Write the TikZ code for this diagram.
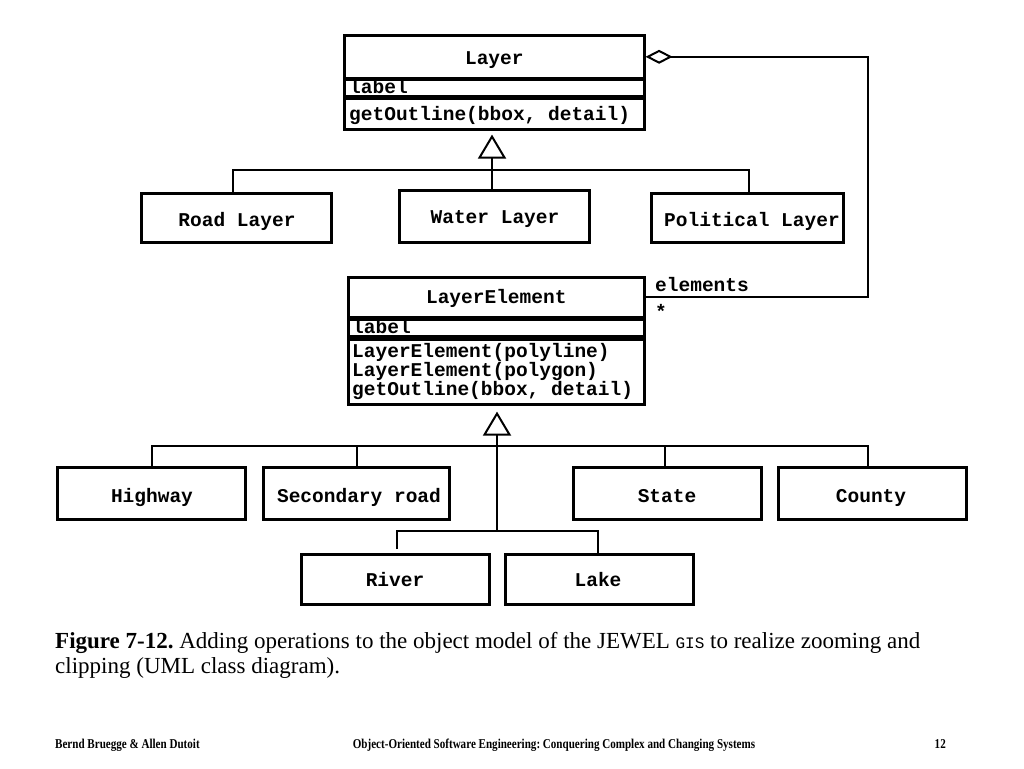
\documentclass[tikz,border=0pt]{standalone}
\usepackage{fontspec}
\setmainfont{Liberation Serif}
\setmonofont{Liberation Mono}
\newfontfamily\footfont[FakeStretch=0.82]{Liberation Serif}
\usetikzlibrary{arrows.meta}
\frenchspacing
\begin{document}
\begin{tikzpicture}[x=1pt,y=-1pt,
  box/.style={draw, line width=2.6pt, inner sep=0pt, anchor=north west},
  boxtext/.style={inner sep=0pt, font=\ttfamily\bfseries\fontsize{19.5}{16.5}\selectfont},
  conn/.style={line width=2pt},
  gen/.style={conn, -{Triangle[open, length=24pt, width=28pt, line width=2pt]}},
  agg/.style={conn, -{Diamond[open, length=27pt, width=14pt, line width=2pt]}},
  captext/.style={anchor=base west, inner sep=0pt, font=\fontsize{23}{27}\selectfont},
  foottext/.style={inner sep=0pt, font=\footfont\bfseries\fontsize{13.5}{13.5}\selectfont},
]
\useasboundingbox (0,0) rectangle (1024,768);
% ---- Layer class
\node[box, minimum width=300pt, minimum height=43pt] (layername) at (343,34) {};
\node[boxtext, anchor=base] (layernamet) at (layername.center |- 0,64) {Layer};
\node[box, minimum width=300pt, minimum height=17pt] (layerattr) at (343,78) {};
\node[boxtext, anchor=base west] (layerattrt) at (349,93) {label};
\node[box, minimum width=300pt, minimum height=31pt] (layerops) at (343,97) {};
\node[boxtext, anchor=base west] (layeropst) at (349,120) {getOutline(bbox, detail)};
% ---- Layer subclasses
\node[box, minimum width=190pt, minimum height=49pt] (road) at (140,192) {};
\node[boxtext, anchor=base] (roadt) at (237,226) {Road Layer};
\node[box, minimum width=190pt, minimum height=52pt] (water) at (398,189) {};
\node[boxtext, anchor=base] (watert) at (495,223) {Water Layer};
\node[box, minimum width=192pt, minimum height=49pt] (political) at (650,192) {};
\node[boxtext, anchor=base] (politicalt) at (752,226) {Political Layer};
\coordinate (j1) at (492,170);
\draw[gen, shorten >=4pt] (j1) -- (j1 |- layerops.south);
\draw[conn] (road.north -| 233,0) -- (233,170) -- (749,170) -- (political.north -| 749,0);
\draw[conn] (j1) -- (water.north -| j1);
% ---- LayerElement class
\node[box, minimum width=296pt, minimum height=40pt] (lename) at (347,276) {};
\node[boxtext, anchor=base] (lenamet) at (lename.center |- 0,303) {LayerElement};
\node[box, minimum width=296pt, minimum height=17pt] (leattr) at (347,318) {};
\node[boxtext, anchor=base west] (leattrt) at (352,333) {label};
\node[box, minimum width=296pt, minimum height=65pt] (leops) at (347,338) {};
\node[boxtext, anchor=north west, align=left] (leopst) at (352,343)
  {LayerElement(polyline)\\LayerElement(polygon)\\getOutline(bbox, detail)};
% ---- aggregation
\draw[agg] (lename.east) -- (lename.east -| 868,0) |- (layername.east);
\node[boxtext, anchor=base west] (elements) at (655,291) {elements};
\node[boxtext, anchor=base west] (mult) at (655,318) {*};
% ---- LayerElement subclasses
\node[box, minimum width=188pt, minimum height=52pt] (highway) at (56,466) {};
\node[boxtext, anchor=base] (highwayt) at (152,502) {Highway};
\node[box, minimum width=186pt, minimum height=52pt] (secondary) at (262,466) {};
\node[boxtext, anchor=base] (secondaryt) at (359,502) {Secondary road};
\node[box, minimum width=188pt, minimum height=52pt] (state) at (572,466) {};
\node[boxtext, anchor=base] (statet) at (667,502) {State};
\node[box, minimum width=188pt, minimum height=52pt] (county) at (777,466) {};
\node[boxtext, anchor=base] (countyt) at (871,502) {County};
\node[box, minimum width=188pt, minimum height=50pt] (river) at (300,553) {};
\node[boxtext, anchor=base] (rivert) at (395,586) {River};
\node[box, minimum width=188pt, minimum height=50pt] (lake) at (504,553) {};
\node[boxtext, anchor=base] (laket) at (598,586) {Lake};
\coordinate (j2) at (497,531);
\draw[gen, shorten >=6pt] (j2) -- (j2 |- leops.south);
\draw[conn] (highway.north -| 152,0) -- (152,446) -- (868,446) -- (county.north -| 868,0);
\draw[conn] (secondary.north -| 357,0) -- (357,446);
\draw[conn] (state.north -| 665,0) -- (665,446);
\draw[conn] (397,549) -- (397,531) -- (598,531) -- (lake.north -| 598,0);
% ---- caption
\node[captext] (caption1) at (55,648)
  {\textbf{Figure 7-12.} Adding operations to the object model of the JEWEL {\ttfamily\fontsize{16}{16}\selectfont GIS} to realize zooming and};
\node[captext] (caption2) at (55,673) {clipping (UML class diagram).};
% ---- footer
\node[foottext, anchor=base west] (foot1) at (55,748) {Bernd Bruegge \& Allen Dutoit};
\node[foottext, anchor=base] (foot2) at (554,748) {Object-Oriented Software Engineering: Conquering Complex and Changing Systems};
\node[foottext, anchor=base east] (foot3) at (946,748) {12};
\end{tikzpicture}
\end{document}
